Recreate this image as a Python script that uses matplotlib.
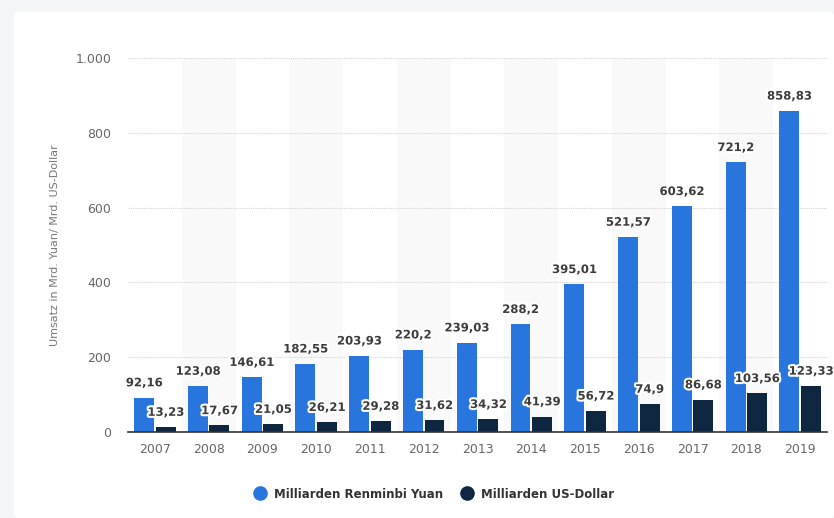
import matplotlib
matplotlib.use("Agg")
import matplotlib.pyplot as plt
import matplotlib.patheffects as pe
import numpy as np
from matplotlib.patches import FancyBboxPatch

years = ["2007", "2008", "2009", "2010", "2011", "2012", "2013",
         "2014", "2015", "2016", "2017", "2018", "2019"]
yuan = [92.16, 123.08, 146.61, 182.55, 203.93, 220.2, 239.03,
        288.2, 395.01, 521.57, 603.62, 721.2, 858.83]
usd = [13.23, 17.67, 21.05, 26.21, 29.28, 31.62, 34.32,
       41.39, 56.72, 74.9, 86.68, 103.56, 123.33]
series_labels = ["Milliarden Renminbi Yuan", "Milliarden US-Dollar"]
y_ticks = [0, 200, 400, 600, 800, 1000]

BLUE = "#2876dd"
NAVY = "#0f2640"


def fmt_de(v):
    s = f"{v:.2f}".rstrip("0").rstrip(".")
    return s.replace(".", ",")


def fmt_tick(v):
    return f"{int(v):,}".replace(",", ".")


fig = plt.figure(figsize=(8.34, 5.18), dpi=100)
fig.patch.set_facecolor("#f4f5f7")
card = FancyBboxPatch((14 / 834, 0), (834 - 14) / 834, 1 - 12 / 518,
                      boxstyle="round,pad=0,rounding_size=0.008",
                      transform=fig.transFigure, facecolor="white",
                      edgecolor="none", zorder=-10)
fig.patches.append(card)

ax = fig.add_axes([128 / 834, 1 - 432 / 518, (827 - 128) / 834, (432 - 58) / 518])
ax.set_facecolor("none")

x = np.arange(len(years))
w = 0.37
gap = 0.03

# alternating background bands
for i in x:
    if i % 2 == 1:
        ax.axvspan(i - 0.5, i + 0.5, color="#f9f9f9", zorder=0, lw=0)

ax.bar(x - w / 2 - gap / 2, yuan, w, color=BLUE, zorder=2)
ax.bar(x + w / 2 + gap / 2, usd, w, color=NAVY, zorder=2)

stroke = [pe.withStroke(linewidth=3, foreground="white")]
for xi, v in zip(x, yuan):
    ax.text(xi - w / 2 - gap / 2, v + 22, fmt_de(v), ha="center", va="bottom",
            fontsize=8.4, fontweight="bold", color="#3c3c3c", zorder=4,
            path_effects=stroke)
for xi, v in zip(x, usd):
    ax.text(xi + w / 2 + gap / 2, v + 22, fmt_de(v), ha="center", va="bottom",
            fontsize=8.4, fontweight="bold", color="#3c3c3c", zorder=4,
            path_effects=stroke)

ax.set_xlim(-0.5, len(years) - 0.5)
ax.set_ylim(0, 1000)
ax.set_yticks(y_ticks)
ax.set_yticklabels([fmt_tick(t) for t in y_ticks])
ax.set_xticks(x)
ax.set_xticklabels(years)
ax.yaxis.grid(True, linestyle=(0, (1, 1)), color="#d5d5d5", linewidth=0.8, zorder=1)
ax.set_axisbelow(True)
for s in ("top", "right", "left"):
    ax.spines[s].set_visible(False)
ax.spines["bottom"].set_color("#333333")
ax.spines["bottom"].set_linewidth(1.2)
ax.spines["bottom"].set_zorder(3)
ax.tick_params(axis="both", length=0, labelsize=9, colors="#666666")
ax.tick_params(axis="x", pad=8)
ax.tick_params(axis="y", pad=12)
ax.set_ylabel("Umsatz in Mrd. Yuan/ Mrd. US-Dollar", fontsize=8,
              color="#777777")
ax.yaxis.set_label_coords((60 - 128) / 699, 0.5)

handles = [plt.Line2D([], [], marker="o", color=c, linestyle="", markersize=9.5)
           for c in (BLUE, NAVY)]
leg = fig.legend(handles, series_labels, loc="center",
                 bbox_to_anchor=(0.522, 1 - 494 / 518), ncol=2, frameon=False,
                 fontsize=8.5, handlelength=0.6, handletextpad=0.9,
                 columnspacing=1.7)
for t in leg.get_texts():
    t.set_fontweight("bold")
    t.set_color("#333333")

fig.savefig("out.png", dpi=100)
